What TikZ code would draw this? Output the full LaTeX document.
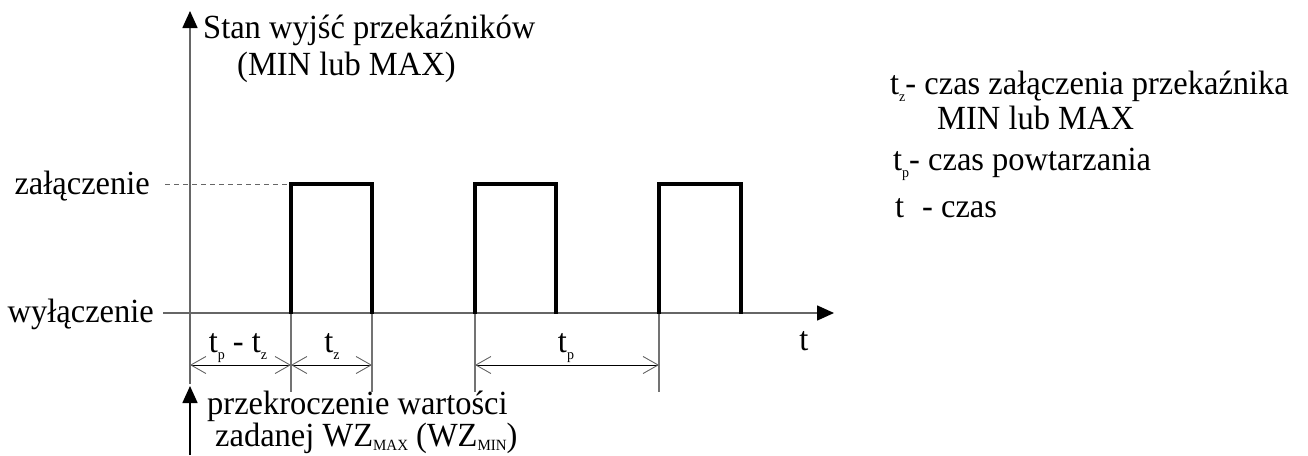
\documentclass[tikz,border=0pt]{standalone}
\usepackage{fontspec}
\setmainfont{Liberation Serif}
\usetikzlibrary{arrows.meta}
\newcommand\lowidx[1]{\raisebox{-0.22em}{\fontsize{14}{14}\selectfont #1}}
\newcommand\capidx[1]{\raisebox{-0.14em}{\fontsize{15}{15}\selectfont #1}}
% slightly tall lettering
\newcommand\tall[1]{\scalebox{1}[1.04]{#1}}
\begin{document}
\begin{tikzpicture}[x=1pt,y=-1pt,
  txt/.style={inner sep=0pt,font=\fontsize{32.5}{36}\selectfont},
  axisline/.style={line width=1.6pt,draw=black!60},
  pulse/.style={line width=3.6pt,line join=miter},
  extline/.style={line width=1.2pt,draw=black!55},
  dimline/.style={line width=1pt,{Straight Barb[length=15pt,width=17pt,line width=0.9pt,color=black!60]}-{Straight Barb[length=15pt,width=17pt,line width=0.9pt,color=black!60]}},
  bigtip/.style={-{Triangle[length=17pt,width=15pt,color=black]}}]
\useasboundingbox (0,0) rectangle (1308,455);

% axes
\coordinate (o) at (190,313);
\coordinate (ytop) at (190,11);
\coordinate (ybot) at (190,384);
\coordinate (xleft) at (163,313);
\coordinate (xright) at (834,313);
\draw[axisline,bigtip] (ybot) -- (ytop);
\draw[axisline,bigtip] (xleft) -- (xright);

% levels
\node[txt,anchor=base east] (on) at (150,194) {\tall{załączenie}};
\node[txt,anchor=base east] (off) at (154,322) {\tall{wyłączenie}};
\coordinate (dashA) at (165,184);
\coordinate (dashB) at (291,184);
\draw[line width=1pt,draw=black!60,dash pattern=on 5pt off 4pt] (dashA) -- (dashB);

% pulses
\foreach \a/\b [count=\i] in {291/372,475/556,659/741}{
  \coordinate (r\i) at (\a,313);
  \coordinate (f\i) at (\b,313);
  \draw[pulse] (\a,314) -- (\a,184) -- (\b,184) -- (\b,314);
}

% extension lines
\foreach \x [count=\i] in {291,372,475,659}{
  \coordinate (e\i) at (\x,314);
  \coordinate (eb\i) at (\x,392);
  \draw[extline] (e\i) -- (eb\i);
}
\coordinate (d0) at (190,365);
\coordinate (d1) at (291,365);
\coordinate (d2) at (372,365);
\coordinate (d3) at (475,365);
\coordinate (d4) at (659,365);
\draw[dimline] (d0) -- (d1);
\draw[dimline] (d1) -- (d2);
\draw[dimline] (d3) -- (d4);
\node[txt,anchor=base] (lab1) at (238,352) {\tall{t\lowidx{p} - t\lowidx{z}}};
\node[txt,anchor=base] (lab2) at (332,352) {\tall{t\lowidx{z}}};
\node[txt,anchor=base] (lab3) at (566,352) {\tall{t\lowidx{p}}};
\node[txt,anchor=base] (tlab) at (804,350) {\tall{t}};

% axis title
\node[txt,anchor=base west] (title1) at (203,38) {\tall{Stan wyjść przekaźników}};
\node[txt,anchor=base west] (title2) at (237,75) {\tall{(MIN lub MAX)}};

% trigger arrow
\coordinate (trigA) at (190,455);
\coordinate (trigB) at (190,386);
\draw[line width=1.6pt,bigtip] (trigA) -- (trigB);
\node[txt,anchor=base west] (trig1) at (207,414) {\tall{przekroczenie wartości}};
\node[txt,anchor=base west] (trig2) at (215,446) {\tall{zadanej WZ\capidx{MAX} (WZ\capidx{MIN})}};

% legend
\node[txt,anchor=base west] (leg1) at (890,94) {\tall{t\lowidx{z}- czas załączenia przekaźnika}};
\node[txt,anchor=base west] (leg2) at (937,129) {\tall{MIN lub MAX}};
\node[txt,anchor=base west] (leg3) at (893,170) {\tall{t\lowidx{p}- czas powtarzania}};
\node[txt,anchor=base west] (leg4) at (895,217) {\tall{t\hspace{0.3em} - czas}};
\end{tikzpicture}
\end{document}
